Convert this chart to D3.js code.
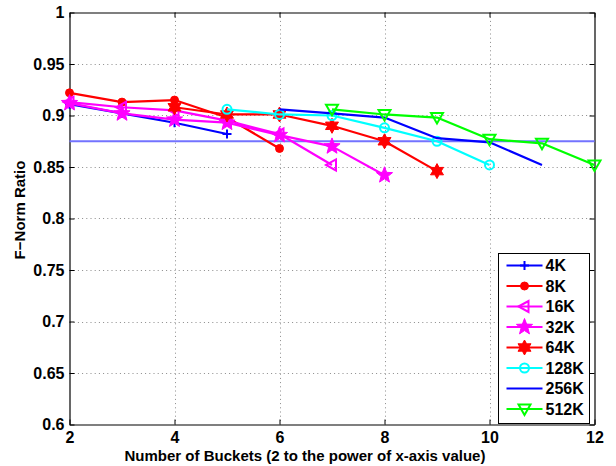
<!DOCTYPE html>
<html><head><meta charset="utf-8">
<script src="https://cdn.jsdelivr.net/npm/d3@7"></script>
<style>body{margin:0;background:#fff}svg{display:block}</style></head>
<body>
<script>
// ---- data ----
const xTicks = [2, 4, 6, 8, 10, 12];
const yTicks = [0.6, 0.65, 0.7, 0.75, 0.8, 0.85, 0.9, 0.95, 1];
const yTickLabels = ["0.6","0.65","0.7","0.75","0.8","0.85","0.9","0.95","1"];
const seriesNames = ["4K","8K","16K","32K","64K","128K","256K","512K"];
const x4K   = [2,3,4,5];
const y4K   = [0.911,0.902,0.893,0.882];
const x8K   = [2,3,4,5,6];
const y8K   = [0.922,0.913,0.915,0.898,0.868];
const x16K  = [2,3,4,5,6,7];
const y16K  = [0.913,0.908,0.905,0.895,0.882,0.852];
const x32K  = [2,3,4,5,6,7,8];
const y32K  = [0.912,0.902,0.896,0.893,0.881,0.870,0.842];
const x64K  = [4,5,6,7,8,9];
const y64K  = [0.908,0.901,0.901,0.890,0.875,0.846];
const x128K = [5,6,7,8,9,10];
const y128K = [0.906,0.901,0.900,0.888,0.875,0.852];
const x256K = [6,7,8,9,10,11];
const y256K = [0.906,0.902,0.898,0.878,0.874,0.852];
const x512K = [7,8,9,10,11,12];
const y512K = [0.906,0.901,0.898,0.877,0.873,0.852];
const refValue = 0.875;
const xLabel = "Number of Buckets (2 to the power of x-axis value)";
const yLabel = "F\u2212Norm Ratio";

// ---- styles ----
const seriesX = [x4K,x8K,x16K,x32K,x64K,x128K,x256K,x512K];
const seriesY = [y4K,y8K,y16K,y32K,y64K,y128K,y256K,y512K];
const colors = ["#0000ff","#ff0000","#ff00ff","#ff00ff","#ff0000","#00ffff","#0000ff","#00ff00"];
const markers = ["plus","dot","ltri","star5","star6","ocircle","none","dtri"];

const W = 616, H = 466;
const L = 69.5, R = 594.5, T = 12.5, B = 424.5;
const font = "'Liberation Sans', Arial, Helvetica, sans-serif";

const svg = d3.select("body").append("svg").attr("width", W).attr("height", H);
const x = d3.scaleLinear().domain([2, 12]).range([L, R]);
const y = d3.scaleLinear().domain([0.6, 1]).range([B, T]);

svg.append("rect").attr("x", L).attr("y", T).attr("width", R - L).attr("height", B - T).attr("fill", "#fff");

// grid
const grid = svg.append("g").attr("stroke", "#8a8a8a").attr("stroke-width", 1).attr("stroke-dasharray", "1,3.2");
grid.selectAll("line.gx").data(xTicks.slice(1, -1)).join("line")
  .attr("x1", d => Math.round(x(d)) + 0.5).attr("x2", d => Math.round(x(d)) + 0.5).attr("y1", T).attr("y2", B);
grid.selectAll("line.gy").data(yTicks.slice(1, -1)).join("line")
  .attr("y1", d => Math.round(y(d)) + 0.5).attr("y2", d => Math.round(y(d)) + 0.5).attr("x1", L).attr("x2", R);

// axes
const axB = svg.append("g").attr("transform", `translate(0,${B})`)
  .call(d3.axisBottom(x).tickValues(xTicks).tickSizeInner(-5).tickSizeOuter(0).tickPadding(9).tickFormat(d3.format("d")));
const axL = svg.append("g").attr("transform", `translate(${L},0)`)
  .call(d3.axisLeft(y).tickValues(yTicks).tickSizeInner(-5).tickSizeOuter(0).tickPadding(5).tickFormat((d, i) => yTickLabels[i]));
const axT = svg.append("g").attr("transform", `translate(0,${T})`)
  .call(d3.axisTop(x).tickValues(xTicks).tickSizeInner(-5).tickSizeOuter(0).tickFormat(""));
const axR = svg.append("g").attr("transform", `translate(${R},0)`)
  .call(d3.axisRight(y).tickValues(yTicks).tickSizeInner(-5).tickSizeOuter(0).tickFormat(""));
[axB, axL, axT, axR].forEach(a => {
  a.selectAll("path.domain").attr("stroke", "#000").attr("stroke-width", 1.2);
  a.selectAll(".tick line").attr("stroke", "#000");
  a.selectAll("text").attr("font-family", font).attr("font-weight", "bold").attr("font-size", 16).attr("fill", "#000");
});
axB.selectAll("text").attr("dy", "0.6em");

// reference line
svg.append("line").attr("x1", x(2)).attr("x2", x(12)).attr("y1", y(refValue)).attr("y2", y(refValue))
  .attr("stroke", "#7373ff").attr("stroke-width", 2);

function starPath(n, ro, ri) {
  const pts = [];
  for (let k = 0; k < 2 * n; k++) {
    const r = k % 2 === 0 ? ro : ri;
    const a = -Math.PI / 2 + k * Math.PI / n;
    pts.push([r * Math.cos(a), r * Math.sin(a)]);
  }
  return "M" + pts.map(p => p.join(",")).join("L") + "Z";
}
function drawMarker(g, type, color, cx, cy) {
  const m = g.append("g").attr("transform", `translate(${cx},${cy})`);
  if (type === "plus") {
    m.append("path").attr("d", "M-4.5,0H4.5M0,-4.5V4.5").attr("stroke", color).attr("stroke-width", 2).attr("fill", "none");
  } else if (type === "dot") {
    m.append("circle").attr("r", 4).attr("fill", color).attr("stroke", color).attr("stroke-width", 1);
  } else if (type === "ocircle") {
    m.append("circle").attr("r", 4.5).attr("fill", "none").attr("stroke", color).attr("stroke-width", 2);
  } else if (type === "ltri") {
    m.append("path").attr("d", "M-6,0L4,-5.5L4,5.5Z").attr("fill", "none").attr("stroke", color).attr("stroke-width", 2);
  } else if (type === "dtri") {
    m.append("path").attr("d", "M0,6L-6,-4.5L6,-4.5Z").attr("fill", "none").attr("stroke", color).attr("stroke-width", 2);
  } else if (type === "star5") {
    m.append("path").attr("d", starPath(5, 8.5, 3.6)).attr("fill", color).attr("stroke", color).attr("stroke-width", 1);
  } else if (type === "star6") {
    m.append("path").attr("d", starPath(6, 7.5, 4.2)).attr("fill", color).attr("stroke", color).attr("stroke-width", 1);
  }
}

// series
const line = d3.line().x(d => x(d[0])).y(d => y(d[1]));
seriesNames.forEach((name, i) => {
  const pts = seriesX[i].map((xv, j) => [xv, seriesY[i][j]]);
  const g = svg.append("g");
  g.append("path").attr("d", line(pts)).attr("fill", "none").attr("stroke", colors[i]).attr("stroke-width", 2.2)
    .attr("stroke-linejoin", "round");
  pts.forEach(p => drawMarker(g, markers[i], colors[i], x(p[0]), y(p[1])));
});

// axis titles
svg.append("text").attr("x", 305).attr("y", 461).attr("text-anchor", "middle")
  .attr("font-family", font).attr("font-weight", "bold").attr("font-size", 15).text(xLabel);
svg.append("text").attr("transform", `translate(25,210) rotate(-90)`).attr("text-anchor", "middle")
  .attr("font-family", font).attr("font-weight", "bold").attr("font-size", 15).text(yLabel);

// legend
const lgX = 498.5, lgY = 253.5, lgW = 91, lgH = 170, rowH = 20.5;
const lg = svg.append("g");
lg.append("rect").attr("x", lgX).attr("y", lgY).attr("width", lgW).attr("height", lgH)
  .attr("fill", "#fff").attr("stroke", "#000").attr("stroke-width", 1);
seriesNames.forEach((name, i) => {
  const cy = lgY + 12 + i * rowH;
  lg.append("line").attr("x1", lgX + 8).attr("x2", lgX + 44).attr("y1", cy).attr("y2", cy)
    .attr("stroke", colors[i]).attr("stroke-width", 2.2);
  drawMarker(lg, markers[i], colors[i], lgX + 26, cy);
  lg.append("text").attr("x", lgX + 47).attr("y", cy).attr("dy", "0.36em")
    .attr("font-family", font).attr("font-weight", "bold").attr("font-size", 16).text(name);
});
</script>
</body></html>
